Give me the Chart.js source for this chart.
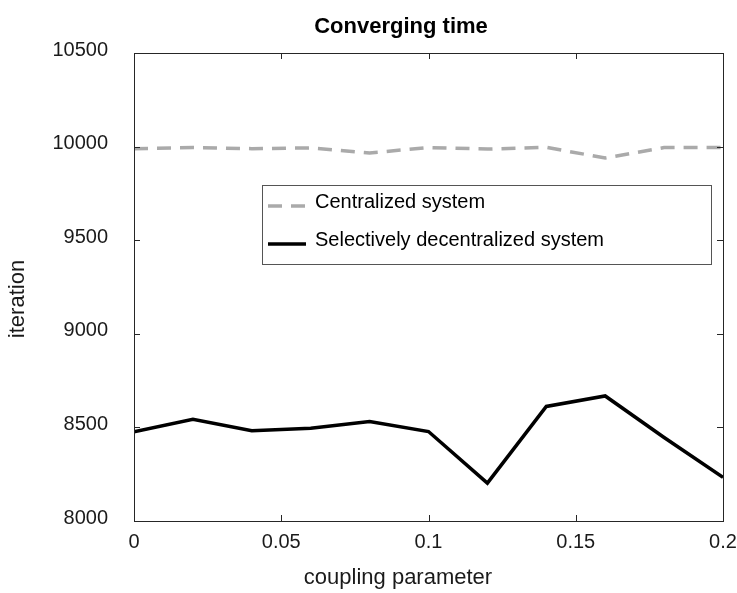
<!DOCTYPE html>
<html>
<head>
<meta charset="utf-8">
<title>Converging time</title>
<script src="https://cdn.jsdelivr.net/npm/chart.js"></script>
<style>
  html, body { margin: 0; padding: 0; background: #fff; }
  #wrap { width: 737px; height: 593px; }
</style>
</head>
<body>
<div id="wrap"><canvas id="chart" width="737" height="593"></canvas></div>
<script>
// data
const coupling = [0, 0.02, 0.04, 0.06, 0.08, 0.1, 0.12, 0.14, 0.16, 0.18, 0.2];
const centralized = [9989, 9995, 9989, 9993, 9966, 9995, 9987, 9996, 9939, 9995, 9995];
const decentralized = [8477, 8543, 8482, 8495, 8531, 8478, 8202, 8612, 8668, 8446, 8233];
const xTicks = [0, 0.05, 0.1, 0.15, 0.2];
const yTicks = [8000, 8500, 9000, 9500, 10000, 10500];
const seriesNames = ['Centralized system', 'Selectively decentralized system'];

const FONT = '"Liberation Sans", Arial, Helvetica, sans-serif';
const AXIS = '#262626';

// box, inward ticks, title, axis titles, legend (matlab style)
const matlabFrame = {
  id: 'matlabFrame',
  afterDraw(chart) {
    const { ctx, chartArea: a, scales } = chart;
    ctx.save();
    ctx.strokeStyle = AXIS;
    ctx.lineWidth = 1;
    ctx.strokeRect(a.left + 0.5, a.top + 0.5, a.right - a.left, a.bottom - a.top);

    const tl = 6;
    ctx.beginPath();
    xTicks.forEach(v => {
      const x = Math.round(scales.x.getPixelForValue(v)) + 0.5;
      ctx.moveTo(x, a.bottom); ctx.lineTo(x, a.bottom - tl);
      ctx.moveTo(x, a.top); ctx.lineTo(x, a.top + tl);
    });
    yTicks.forEach(v => {
      const y = Math.round(scales.y.getPixelForValue(v)) + 0.5;
      ctx.moveTo(a.left, y); ctx.lineTo(a.left + tl, y);
      ctx.moveTo(a.right, y); ctx.lineTo(a.right - tl, y);
    });
    ctx.stroke();

    // titles
    ctx.fillStyle = '#000';
    ctx.textAlign = 'center';
    ctx.textBaseline = 'middle';
    ctx.font = 'bold 22px ' + FONT;
    ctx.fillText('Converging time', 401, 27);
    ctx.fillStyle = '#1a1a1a';
    ctx.font = '22px ' + FONT;
    ctx.fillText('coupling parameter', 398, 578);
    ctx.save();
    ctx.translate(18, 299);
    ctx.rotate(-Math.PI / 2);
    ctx.fillText('iteration', 0, 0);
    ctx.restore();

    // legend
    const lx = 262, ly = 185, lw = 449, lh = 79;
    ctx.fillStyle = '#fff';
    ctx.fillRect(lx, ly, lw, lh);
    ctx.strokeStyle = '#555';
    ctx.strokeRect(lx + 0.5, ly + 0.5, lw, lh);
    chart.data.datasets.forEach((ds, i) => {
      const y = ly + 17 + i * 38;
      ctx.beginPath();
      ctx.strokeStyle = ds.borderColor;
      ctx.lineWidth = ds.borderWidth;
      ctx.setLineDash(ds.borderDash || []);
      ctx.moveTo(268, y + 4);
      ctx.lineTo(306, y + 4);
      ctx.stroke();
      ctx.setLineDash([]);
      ctx.fillStyle = '#000';
      ctx.textAlign = 'left';
      ctx.font = '20px ' + FONT;
      ctx.fillText(ds.label, 315, y);
    });
    ctx.restore();
  }
};

new Chart(document.getElementById('chart'), {
  type: 'line',
  data: {
    labels: coupling,
    datasets: [
      {
        label: seriesNames[0],
        data: coupling.map((x, i) => ({ x, y: centralized[i] })),
        borderColor: '#aaaaaa',
        borderWidth: 3.5,
        borderDash: [14, 9],
        borderCapStyle: 'butt',
        pointRadius: 0,
        tension: 0,
        fill: false
      },
      {
        label: seriesNames[1],
        data: coupling.map((x, i) => ({ x, y: decentralized[i] })),
        borderColor: '#000000',
        borderWidth: 3.5,
        pointRadius: 0,
        tension: 0,
        fill: false
      }
    ]
  },
  options: {
    responsive: false,
    animation: false,
    layout: { padding: { top: 53, right: 14, left: 0, bottom: 0 } },
    plugins: {
      legend: { display: false },
      title: { display: false },
      tooltip: { enabled: false }
    },
    scales: {
      x: {
        type: 'linear',
        min: 0, max: 0.2,
        afterFit: s => { s.height = 72; s.paddingLeft = 0; s.paddingRight = 0; },
        afterBuildTicks: s => { s.ticks = xTicks.map(v => ({ value: v })); },
        grid: { display: false, drawTicks: false },
        border: { display: false },
        ticks: {
          padding: 9,
          color: '#1a1a1a',
          font: { family: FONT, size: 20 },
          maxRotation: 0,
          callback: v => String(v)
        }
      },
      y: {
        min: 8000, max: 10500,
        afterFit: s => { s.width = 134; s.paddingTop = 0; s.paddingBottom = 0; },
        afterBuildTicks: s => { s.ticks = yTicks.map(v => ({ value: v })); },
        grid: { display: false, drawTicks: false },
        border: { display: false },
        ticks: {
          padding: 26,
          labelOffset: -3,
          color: '#1a1a1a',
          font: { family: FONT, size: 20 },
          callback: v => String(v)
        }
      }
    }
  },
  plugins: [matlabFrame]
});
</script>
</body>
</html>
